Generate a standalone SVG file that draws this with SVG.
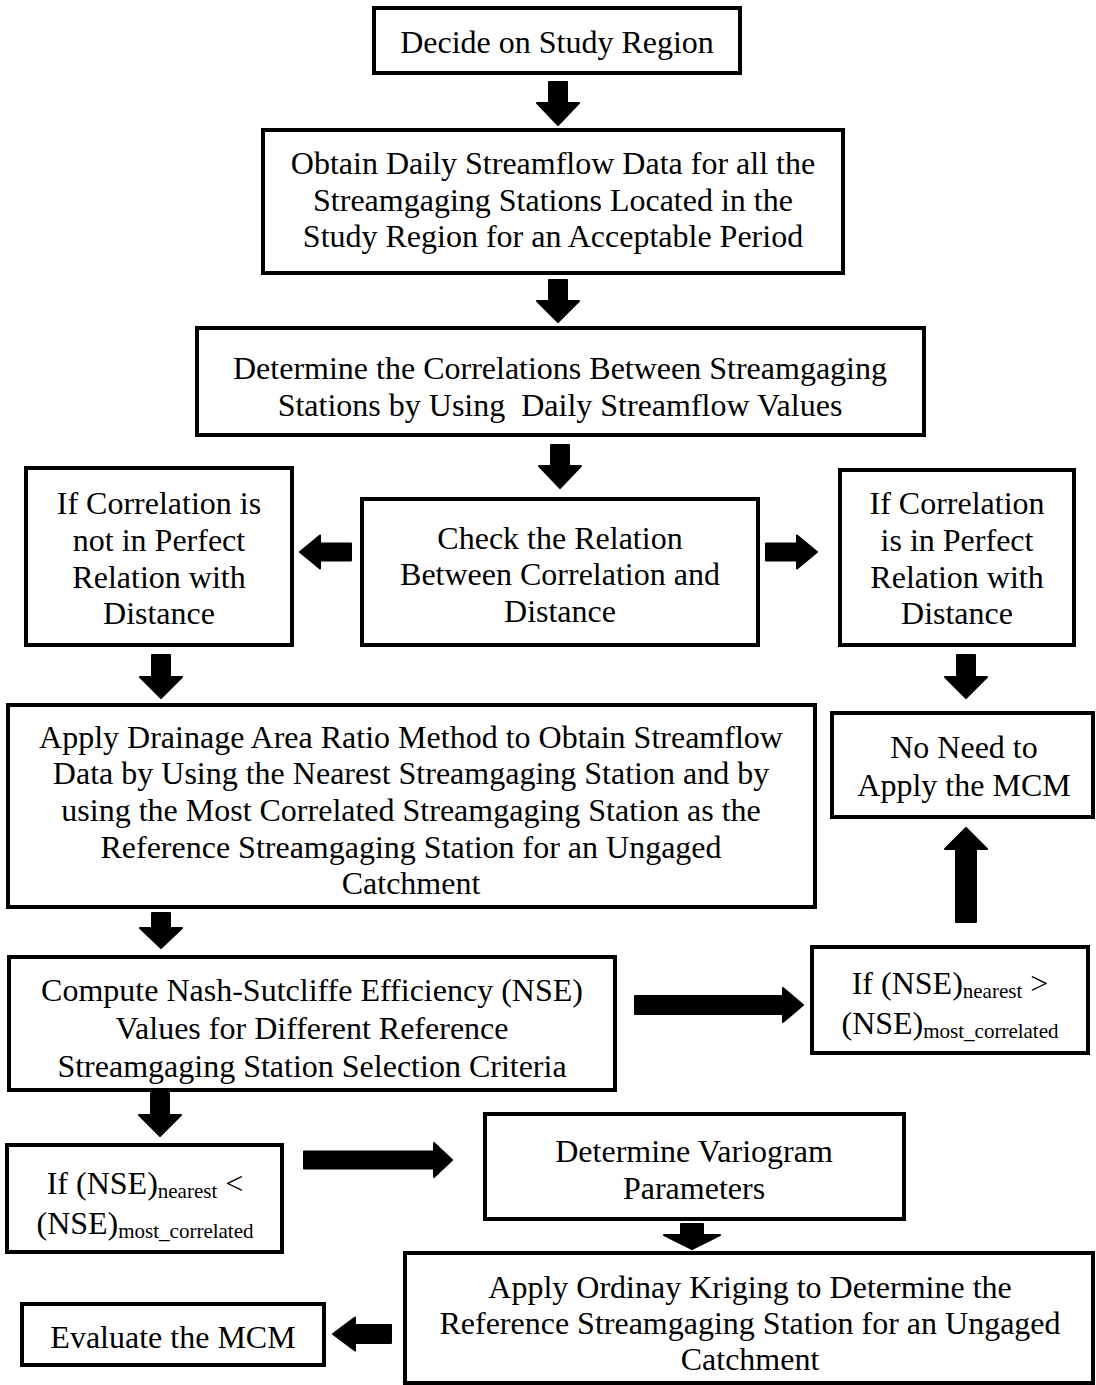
<svg xmlns="http://www.w3.org/2000/svg" width="1096" height="1385" viewBox="0 0 1096 1385">
<style>
  .box { fill: #ffffff; stroke: #000000; stroke-width: 4; }
  .t { font-family: "Liberation Serif", "Times New Roman", serif; font-size: 32px; fill: #000000; text-anchor: middle; }
  .sub { font-size: 21px; }
  .arr { fill: #000000; stroke: #000000; stroke-width: 2; stroke-linejoin: round; }
</style>
<rect width="1096" height="1385" fill="#ffffff"/>

<g id="connectors">
  <!-- down arrows -->
  <path class="arr" d="M549,82 L567,82 L567,103 L579,103 L558,125 L537,103 L549,103 Z"/>
  <path class="arr" d="M549,280 L567,280 L567,301 L579,301 L558,322 L537,301 L549,301 Z"/>
  <path class="arr" d="M551,445 L569,445 L569,466 L581,466 L560,488 L539,466 L551,466 Z"/>
  <path class="arr" d="M152,655 L170,655 L170,677 L182,677 L161,698 L140,677 L152,677 Z"/>
  <path class="arr" d="M957,655 L975,655 L975,677 L987,677 L966,698 L945,677 L957,677 Z"/>
  <path class="arr" d="M152,913 L170,913 L170,928 L182,928 L161,948 L140,928 L152,928 Z"/>
  <path class="arr" d="M151,1093 L169,1093 L169,1115 L181,1115 L160,1136 L139,1115 L151,1115 Z"/>
  <path class="arr" d="M681,1224 L703,1224 L703,1235 L720,1235 L692,1249 L664,1235 L681,1235 Z"/>
  <!-- up arrow -->
  <path class="arr" d="M956,922 L976,922 L976,849 L987,849 L966,828 L945,849 L956,849 Z"/>
  <!-- horizontal arrows -->
  <path class="arr" d="M351,543.5 L351,560.5 L320,560.5 L320,568.5 L300,552 L320,535.5 L320,543.5 Z"/>
  <path class="arr" d="M766,543.5 L766,560.5 L797,560.5 L797,568.5 L817,552 L797,535.5 L797,543.5 Z"/>
  <path class="arr" d="M635,996 L635,1014 L783,1014 L783,1022 L803,1005 L783,988 L783,996 Z"/>
  <path class="arr" d="M304,1151.5 L304,1168.5 L434,1168.5 L434,1177 L452,1160 L434,1143 L434,1151.5 Z"/>
  <path class="arr" d="M391,1325 L391,1343 L355,1343 L355,1350.5 L333,1334 L355,1317.5 L355,1325 Z"/>
</g>

<g id="n1">
  <rect class="box" x="374" y="8" width="366" height="65"/>
  <text class="t" x="557" y="53">Decide on Study Region</text>
</g>

<g id="n2">
  <rect class="box" x="263" y="130" width="580" height="143"/>
  <text class="t" x="553" y="174">Obtain Daily Streamflow Data for all the</text>
  <text class="t" x="553" y="211">Streamgaging Stations Located in the</text>
  <text class="t" x="553" y="247">Study Region for an Acceptable Period</text>
</g>

<g id="n3">
  <rect class="box" x="197" y="328" width="727" height="107"/>
  <text class="t" x="560" y="379">Determine the Correlations Between Streamgaging</text>
  <text class="t" x="560" y="416" xml:space="preserve">Stations by Using  Daily Streamflow Values</text>
</g>

<g id="n4">
  <rect class="box" x="26" y="468" width="266" height="177"/>
  <text class="t" x="159" y="514">If Correlation is</text>
  <text class="t" x="159" y="551">not in Perfect</text>
  <text class="t" x="159" y="588">Relation with</text>
  <text class="t" x="159" y="624">Distance</text>
</g>

<g id="n5">
  <rect class="box" x="362" y="499" width="396" height="146"/>
  <text class="t" x="560" y="549">Check the Relation</text>
  <text class="t" x="560" y="585">Between Correlation and</text>
  <text class="t" x="560" y="622">Distance</text>
</g>

<g id="n6">
  <rect class="box" x="840" y="470" width="234" height="175"/>
  <text class="t" x="957" y="514">If Correlation</text>
  <text class="t" x="957" y="551">is in Perfect</text>
  <text class="t" x="957" y="588">Relation with</text>
  <text class="t" x="957" y="624">Distance</text>
</g>

<g id="n7">
  <rect class="box" x="8" y="705" width="807" height="202"/>
  <text class="t" x="411" y="748">Apply Drainage Area Ratio Method to Obtain Streamflow</text>
  <text class="t" x="411" y="784">Data by Using the Nearest Streamgaging Station and by</text>
  <text class="t" x="411" y="821">using the Most Correlated Streamgaging Station as the</text>
  <text class="t" x="411" y="858">Reference Streamgaging Station for an Ungaged</text>
  <text class="t" x="411" y="894">Catchment</text>
</g>

<g id="n8">
  <rect class="box" x="832" y="713" width="261" height="104"/>
  <text class="t" x="964" y="758">No Need to</text>
  <text class="t" x="964" y="796">Apply the MCM</text>
</g>

<g id="n9">
  <rect class="box" x="9" y="957" width="606" height="133"/>
  <text class="t" x="312" y="1001">Compute Nash-Sutcliffe Efficiency (NSE)</text>
  <text class="t" x="312" y="1039">Values for Different Reference</text>
  <text class="t" x="312" y="1077">Streamgaging Station Selection Criteria</text>
</g>

<g id="n10">
  <rect class="box" x="812" y="947" width="276" height="106"/>
  <text class="t" x="950" y="994">If (NSE)<tspan class="sub" dy="4">nearest</tspan><tspan dy="-4"> &gt;</tspan></text>
  <text class="t" x="950" y="1034">(NSE)<tspan class="sub" dy="4">most_correlated</tspan></text>
</g>

<g id="n11">
  <rect class="box" x="7" y="1145" width="275" height="107"/>
  <text class="t" x="145" y="1194">If (NSE)<tspan class="sub" dy="4">nearest</tspan><tspan dy="-4"> &lt;</tspan></text>
  <text class="t" x="145" y="1234">(NSE)<tspan class="sub" dy="4">most_correlated</tspan></text>
</g>

<g id="n12">
  <rect class="box" x="485" y="1114" width="419" height="105"/>
  <text class="t" x="694" y="1162">Determine Variogram</text>
  <text class="t" x="694" y="1199">Parameters</text>
</g>

<g id="n13">
  <rect class="box" x="405" y="1253" width="688" height="130"/>
  <text class="t" x="750" y="1298">Apply Ordinay Kriging to Determine the</text>
  <text class="t" x="750" y="1334">Reference Streamgaging Station for an Ungaged</text>
  <text class="t" x="750" y="1370">Catchment</text>
</g>

<g id="n14">
  <rect class="box" x="22" y="1304" width="302" height="61"/>
  <text class="t" x="173" y="1348">Evaluate the MCM</text>
</g>
</svg>
